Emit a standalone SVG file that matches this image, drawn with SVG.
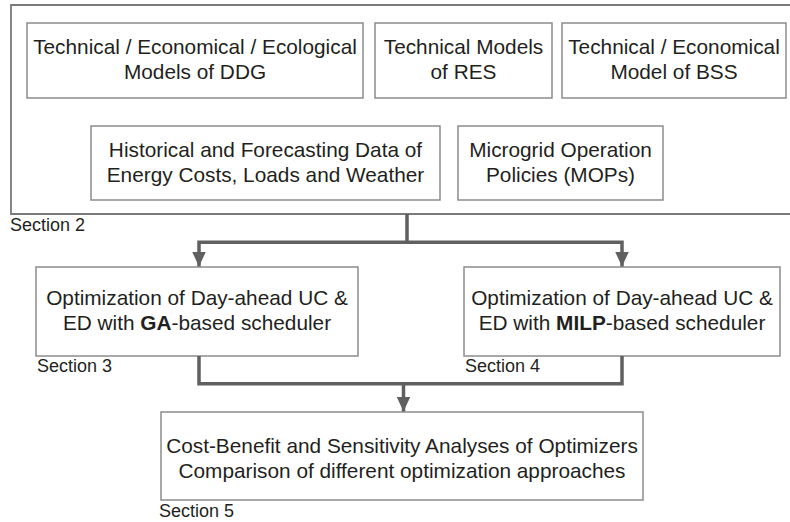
<svg xmlns="http://www.w3.org/2000/svg" width="790" height="522" viewBox="0 0 790 522">
  <style>
    .box { fill: #ffffff; stroke: #8c8c8c; stroke-width: 1.5; }
    .frame { fill: none; stroke: #7a7a7a; stroke-width: 1.8; }
    .txt { font-family: "Liberation Sans", Arial, sans-serif; font-size: 20.8px; fill: #231f20; text-anchor: middle; }
    .sec { font-family: "Liberation Sans", Arial, sans-serif; font-size: 18px; fill: #231f20; }
    .wire { fill: none; stroke: #606060; stroke-width: 3.5; stroke-linejoin: miter; }
    .bold { font-weight: bold; }
  </style>
  <defs>
    <marker id="arrow" viewBox="0 0 15 14" refX="15" refY="7" markerWidth="15" markerHeight="14" markerUnits="userSpaceOnUse" orient="auto">
      <path d="M0,0 L15,7 L0,14 Z" fill="#606060"/>
    </marker>
  </defs>

  <!-- Section 2: input models and data -->
  <g id="section2">
    <path class="frame" d="M800,5 H11 V214 H800"/>
    <text class="sec" x="10" y="231">Section 2</text>
  </g>

  <g id="ddg-models">
    <rect class="box" x="27" y="23" width="336" height="75"/>
    <text class="txt" x="195" y="54">Technical / Economical / Ecological</text>
    <text class="txt" x="195" y="79">Models of DDG</text>
  </g>

  <g id="res-models">
    <rect class="box" x="375" y="23" width="177" height="75"/>
    <text class="txt" x="463.5" y="54">Technical Models</text>
    <text class="txt" x="463.5" y="79">of RES</text>
  </g>

  <g id="bss-model">
    <rect class="box" x="562" y="23" width="224" height="75"/>
    <text class="txt" x="674" y="54">Technical / Economical</text>
    <text class="txt" x="674" y="79">Model of BSS</text>
  </g>

  <g id="forecast-data">
    <rect class="box" x="91" y="126" width="349" height="74"/>
    <text class="txt" x="265.5" y="156.5">Historical and Forecasting Data of</text>
    <text class="txt" x="265.5" y="181.5">Energy Costs, Loads and Weather</text>
  </g>

  <g id="mops">
    <rect class="box" x="458" y="126" width="205" height="74"/>
    <text class="txt" x="560.5" y="156.5">Microgrid Operation</text>
    <text class="txt" x="560.5" y="181.5">Policies (MOPs)</text>
  </g>

  <!-- Section 3 / 4: schedulers -->
  <g id="ga-scheduler">
    <rect class="box" x="36" y="267" width="322" height="89"/>
    <text class="txt" x="197" y="304.5">Optimization of Day-ahead UC &amp;</text>
    <text class="txt" x="197" y="329.5">ED with <tspan class="bold">GA</tspan>-based scheduler</text>
    <text class="sec" x="37" y="372">Section 3</text>
  </g>

  <g id="milp-scheduler">
    <rect class="box" x="464" y="267" width="316" height="89"/>
    <text class="txt" x="622" y="304.5">Optimization of Day-ahead UC &amp;</text>
    <text class="txt" x="622" y="329.5">ED with <tspan class="bold">MILP</tspan>-based scheduler</text>
    <text class="sec" x="465" y="372">Section 4</text>
  </g>

  <!-- Section 5: comparison -->
  <g id="analysis">
    <rect class="box" x="161" y="412" width="482" height="88"/>
    <text class="txt" x="402" y="452.5">Cost-Benefit and Sensitivity Analyses of Optimizers</text>
    <text class="txt" x="402" y="477.5">Comparison of different optimization approaches</text>
    <text class="sec" x="159" y="517">Section 5</text>
  </g>

  <!-- connectors -->
  <g id="connectors">
    <path class="wire" d="M407,214 V242.3 H199 V266.5" marker-end="url(#arrow)"/>
    <path class="wire" d="M407,242.3 H622 V266.5" marker-end="url(#arrow)"/>
    <path class="wire" d="M199,356 V383.7 H622 V356"/>
    <path class="wire" d="M403.5,383.7 V411.5" marker-end="url(#arrow)"/>
  </g>
</svg>
